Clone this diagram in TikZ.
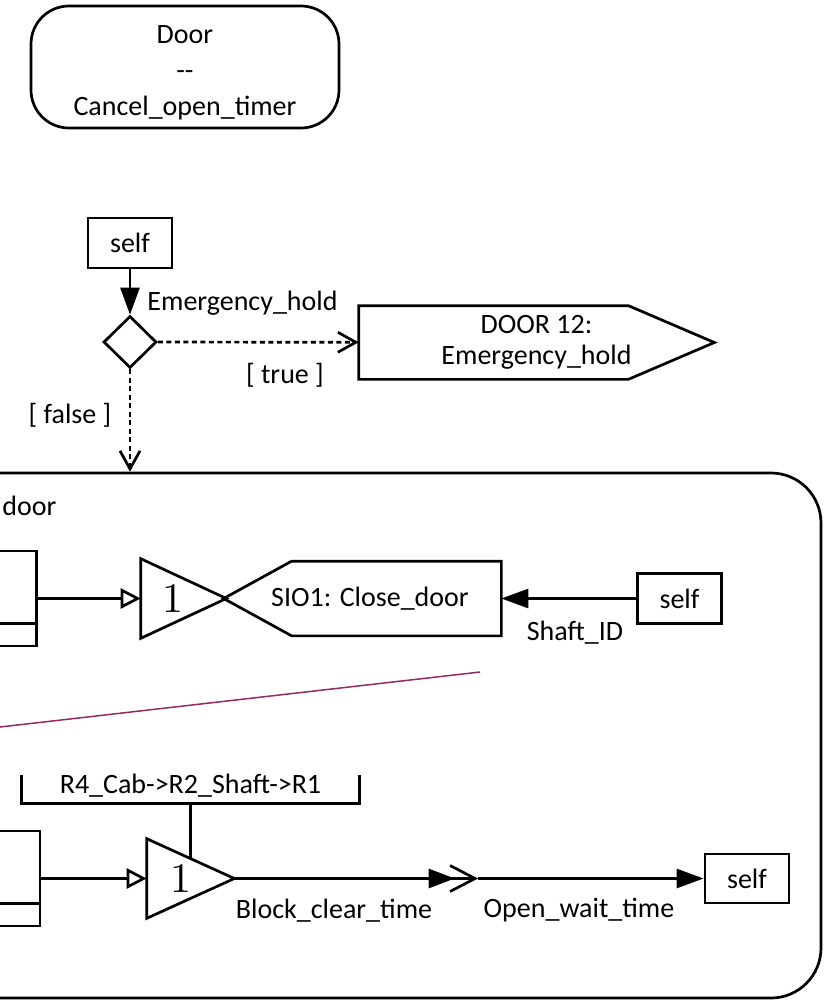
\documentclass[tikz,border=0pt]{standalone}
\usepackage{fontspec}
\setmainfont{Carlito}
\newfontfamily\lmfont{lmroman10-regular.otf}
\usetikzlibrary{positioning,calc,arrows.meta,shapes.geometric}
\definecolor{linkc}{RGB}{150,40,100}
\newcommand{\gateone}{{\lmfont\fontsize{42}{42}\selectfont 1}}

\begin{document}
\begin{tikzpicture}[x=1pt, y=-1pt, line width=2.7pt,
  font=\fontsize{28}{36}\selectfont,
  obj/.style = {draw, inner sep=0pt, minimum width=84pt, minimum height=50pt},
  lbl/.style = {inner sep=0pt, anchor=base},
  flow/.style = {-{Triangle[length=27pt, width=19pt]}},
  pass/.style = {-{Triangle[open, length=20pt, width=20pt]}},
  guard/.style = {dash pattern=on 5pt off 3.5pt, -{Straight Barb[length=18pt, width=20pt]}}]
            \useasboundingbox (0,0) rectangle (825,1002);
            % Nodes
            \node[draw, rounded corners=38pt, minimum width=308pt, minimum height=122pt] (state) at (185,67) {};
            \node[align=center, yshift=-6pt] (statename) at (state.center) {Door\\-{}-\\Cancel\_open\_timer};
            \node[obj] (self1) at (130,243) {self};
            \node[draw, diamond, inner sep=0pt, minimum width=53pt, minimum height=52pt] (dec) at (130,342) {};
            \node[inner sep=0pt, minimum width=353pt, minimum height=71pt, align=center, font=\fontsize{28}{31}\selectfont] (hold) at (536.5,342.5) {DOOR 12:\\Emergency\_hold};
            \draw (hold.north west) -- ([xshift=-86pt]hold.north east) -- (hold.east) -- ([xshift=-86pt]hold.south east) -- (hold.south west) -- cycle;
            \node[lbl] (evt) at (242.5,310) {Emergency\_hold};
            \node[lbl] (yes) at (285,383) {[ true ]};
            \node[lbl] (no) at (70,423) {[ false ]};
            \node[draw, rounded corners=50pt, minimum width=921pt, minimum height=525pt] (blk) at (360.5,735.5) {};
            \node[lbl, anchor=base west] (blkname) at (1,515) {door};
            % upper row
            \node[draw, inner sep=0pt, minimum width=97pt, minimum height=95pt] (cls1) at (-12,598.5) {};
            \draw ([yshift=24pt]cls1.south west) -- ([yshift=24pt]cls1.south east);
            \node[inner sep=0pt, minimum width=83pt, minimum height=77pt] (t1) at (183.5,598.5) {\hspace*{-21pt}\gateone};
            \draw (t1.north west) -- (t1.east) -- (t1.south west) -- cycle;
            \node[inner sep=0pt, minimum width=275pt, minimum height=72pt] (sio) at (362.5,598.5) {\hspace*{15pt}SIO1: Close\_door};
            \draw (sio.west) -- ([xshift=68pt]sio.north west) -- (sio.north east) -- (sio.south east) -- ([xshift=68pt]sio.south west) -- cycle;
            \node[obj] (self2) at (679.5,598.5) {self};
            \node[lbl] (attr1) at (575,640) {Shaft\_ID};
            % lower row
            \node[draw, inner sep=0pt, minimum width=100pt, minimum height=95pt] (cls2) at (-10,878.5) {};
            \draw ([yshift=24pt]cls2.south west) -- ([yshift=24pt]cls2.south east);
            \node[inner sep=0pt, minimum width=85pt, minimum height=77pt] (t2) at (190.5,878.5) {\hspace*{-19pt}\gateone};
            \draw (t2.north west) -- (t2.east) -- (t2.south west) -- cycle;
            \node[inner sep=0pt, minimum width=335pt, text height=17pt, text depth=9pt] (nav) at (190.5,789) {R4\_Cab->R2\_Shaft->R1};
            \draw (nav.north west) -- (nav.south west) -- (nav.south east) -- (nav.north east);
            \coordinate (jn) at (478,878.5);
            \node[obj, minimum height=49pt] (self3) at (747,878.5) {self};
            \node[lbl] (attr2) at (334,918) {Block\_clear\_time};
            \node[lbl] (attr3) at (579,917) {Open\_wait\_time};
            % Edges
            \draw[flow] (self1) -- (dec);
            \draw[guard] (dec) -- (hold);
            \draw[guard] (dec) -- (dec |- blk.north);
            \draw[pass] (cls1.east) -- (t1.west);
            \draw[flow] (self2) -- (sio.east);
            \draw[line width=1.5pt, linkc] (0,727) -- (480,672);
            \draw (nav.south) -- ($(t2.north west)!.5!(t2.east)$);
            \draw[pass] (cls2.east) -- (t2.west);
            \draw[-{Triangle[length=26pt, width=19pt, sep=-6pt] Straight Barb[length=25pt, width=26pt]}] (t2.east) -- (jn);
            \draw[flow] (jn) -- (self3);
\end{tikzpicture}
\end{document}
